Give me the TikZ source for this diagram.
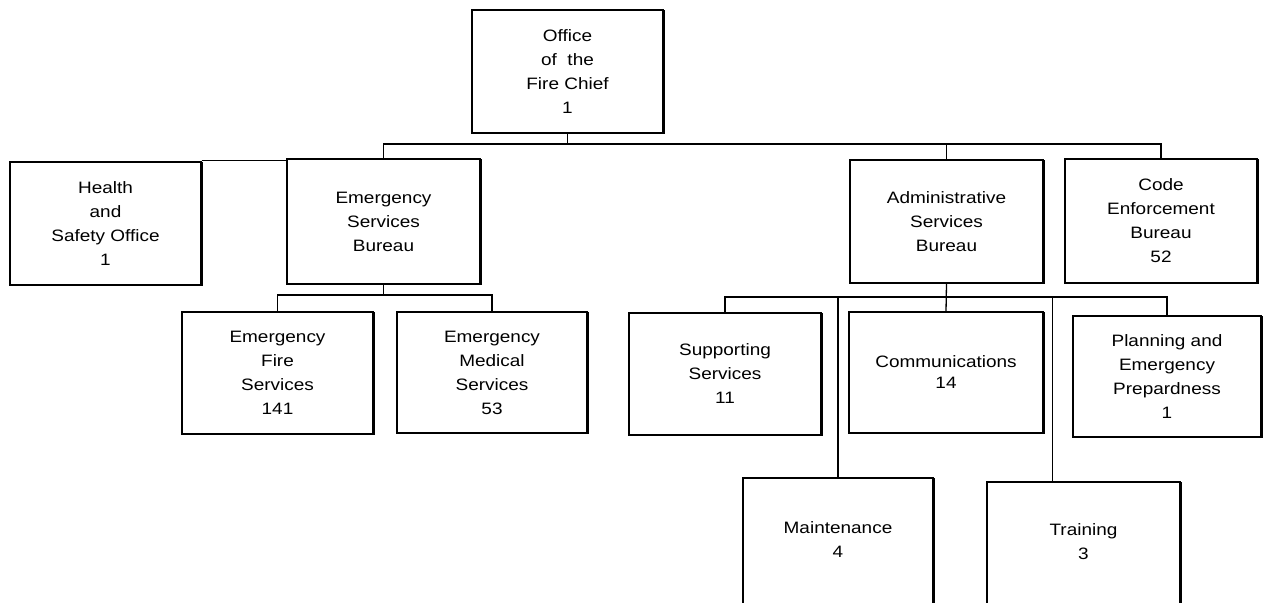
\documentclass[tikz,border=0pt]{standalone}
\usepackage{fontspec}
\setmainfont{Liberation Sans}[FakeStretch=1.15]
\begin{document}
\begin{tikzpicture}[x=1pt,y=-1pt,
  orgbox/.style={draw=black, line width=1.2pt, fill=white, align=center,
    minimum width=191pt, minimum height=123pt, inner sep=0pt,
    font=\fontsize{16.5}{24}\selectfont},
  link/.style={draw=black, line width=1.3pt},
  shade/.style={draw=black, line width=2.4pt}]
\useasboundingbox (0,0) rectangle (1265,602);
\clip (0,0) rectangle (1265,602);
\fill[white] (0,0) rectangle (1265,602);

\node[orgbox] (office) at (567.5,71.5) {Office\\of\ \ the\\Fire Chief\\1};
\node[orgbox] (health) at (105.5,223.5) {Health\\and\\Safety Office\\1};
\node[orgbox, minimum width=193pt, minimum height=125pt] (esb) at (383.5,221.5) {Emergency\\Services\\Bureau};
\node[orgbox, minimum width=193pt] (asb) at (946.5,221.5) {Administrative\\Services\\Bureau};
\node[orgbox, minimum width=192pt, minimum height=124pt] (code) at (1161,221) {Code\\Enforcement\\Bureau\\52};
\node[orgbox, minimum height=122pt] (efs) at (277.5,373) {Emergency\\Fire\\Services\\141};
\node[orgbox, minimum width=190pt, minimum height=121pt] (ems) at (492,372.5) {Emergency\\Medical\\Services\\53};
\node[orgbox, minimum width=192pt, minimum height=122pt] (sup) at (725,374) {Supporting\\Services\\11};
\node[orgbox, minimum width=194pt, minimum height=121pt] (comm) at (946,372.5) {Communications\\[-3pt]14};
\node[orgbox, minimum width=188pt, minimum height=121pt] (plan) at (1167,376.5) {Planning and\\Emergency\\Prepardness\\1};
\node[orgbox, minimum width=190pt, minimum height=150pt] (maint) at (838,553) {Maintenance\\4\\[2pt]};
\node[orgbox, minimum width=193pt, minimum height=150pt] (train) at (1083.5,557) {Training\\3\\[7pt]};

\foreach \n in {office,health,esb,asb,code,efs,ems,sup,comm,plan,maint,train}{
  \draw[shade] ([xshift=0.6pt,yshift=-1pt]\n.north east) -- ([xshift=0.6pt,yshift=0.6pt]\n.south east) -- ([yshift=0.6pt]\n.south west);
}

% top level bus
\coordinate (bus1) at (567.5,144);
\draw[link] (office.south) -- (bus1);
\draw[link] (esb.north) |- (bus1) -| (code.north);
\draw[link] (asb.north) -- (asb.north |- bus1);
\draw[link] ([yshift=1pt]health.north east) -- ([yshift=1pt]health.north east -| esb.west);

% emergency services bus
\coordinate (bus2) at (383.5,295);
\draw[link] (esb.south) -- (bus2);
\draw[link] (efs.north) |- (bus2) -| (ems.north);

% administrative services bus
\coordinate (bus3) at (946.5,297);
\draw[link] (asb.south) -- (comm.north);
\draw[link] (sup.north) |- (bus3) -| (plan.north);
\draw[link] (maint.north |- bus3) -- (maint.north);
\coordinate (trainfeed) at ([xshift=-31pt]train.north);
\draw[link] (trainfeed |- bus3) -- (trainfeed);
\end{tikzpicture}
\end{document}
